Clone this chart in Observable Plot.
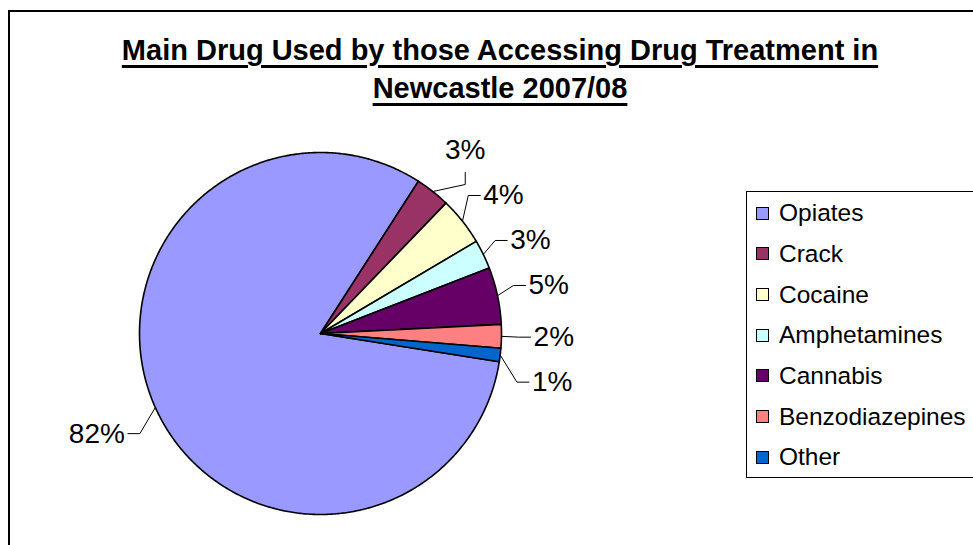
<!DOCTYPE html>
<html>
<head>
<meta charset="utf-8">
<script src="https://cdn.jsdelivr.net/npm/d3@7"></script>
<script src="https://cdn.jsdelivr.net/npm/@observablehq/plot@0.6"></script>
<style>
  html, body { margin: 0; padding: 0; background: #fff; }
  #wrap { position: relative; width: 973px; height: 545px; overflow: hidden; background: #fff;
          font-family: "Liberation Sans", Arial, sans-serif; }
  #frame { position: absolute; left: 8px; top: 10px; width: 1200px; height: 800px;
           border: 2px solid #000; box-sizing: border-box; }
  #title { position: absolute; left: 0; top: 31px; width: 1000px; text-align: center;
           font-weight: bold; font-size: 29px; line-height: 38px; color: #000; }
  #title span { text-decoration: underline; text-decoration-thickness: 3px; text-underline-offset: 5px; }
  #legend { position: absolute; left: 746px; top: 191px; width: 300px; height: 287px;
            border: 1px solid #000; box-sizing: border-box; padding-top: 1px; }
  .row { display: flex; align-items: center; height: 40.67px; font-size: 24.5px; color: #000; }
  .sw { width: 13px; height: 13px; box-sizing: border-box; border: 1px solid #000;
        margin-left: 9px; margin-right: 10px; flex: none; }
  #plot { position: absolute; left: 0; top: 0; }
</style>
</head>
<body>
<div id="wrap">
  <div id="frame"></div>
  <div id="plot"></div>
  <div id="title"></div>
  <div id="legend"></div>
</div>
<script>
// ---- data ----
const titleLines = ["Main Drug Used by those Accessing Drug Treatment in", "Newcastle 2007/08"];
const names = ["Opiates", "Crack", "Cocaine", "Amphetamines", "Cannabis", "Benzodiazepines", "Other"];
const values = [81.6, 3.1, 4.3, 2.6, 5.1, 2.1, 1.2];
const colors = ["#9999FF", "#993366", "#FFFFCC", "#CCFFFF", "#660066", "#FF8080", "#0066CC"];

// ---- layout constants ----
const W = 973, H = 545;
const CX = 320, CY = 333, R = 181;       // pie centre and radius (px)
const START = 99;                        // angle of first slice (deg, clockwise from 12 o'clock)
const LABEL_FONT = 28;
const FONT = '"Liberation Sans", Arial, sans-serif';

// title
const t = document.getElementById("title");
t.innerHTML = titleLines.map(s => `<span>${s}</span>`).join("<br>");

// legend
const lg = document.getElementById("legend");
names.forEach((n, i) => {
  const row = document.createElement("div");
  row.className = "row";
  row.innerHTML = `<div class="sw" style="background:${colors[i]}"></div><div>${n}</div>`;
  lg.appendChild(row);
});

// ---- geometry (data space: unit circle) ----
const total = d3.sum(values);
const rad = a => a * Math.PI / 180;
let acc = START;
const slices = names.map((name, i) => {
  const a0 = acc, a1 = acc + values[i] / total * 360;
  acc = a1;
  return {name, a0, a1, value: values[i]};
});

const piePts = [];
for (const s of slices) {
  piePts.push({name: s.name, x: 0, y: 0});
  const n = Math.max(2, Math.ceil((s.a1 - s.a0) / 0.5));
  for (let k = 0; k <= n; k++) {
    const a = rad(s.a0 + (s.a1 - s.a0) * k / n);
    piePts.push({name: s.name, x: Math.sin(a), y: Math.cos(a)});
  }
  piePts.push({name: s.name, x: 0, y: 0});
}

// labels
const ctx = document.createElement("canvas").getContext("2d");
ctx.font = `${LABEL_FONT}px ${FONT}`;
const u = 1 / R; // one pixel in data units
const labels = slices.map(s => {
  const text = Math.round(s.value / total * 100) + "%";
  const w = ctx.measureText(text).width;
  const mid = rad(((s.a0 + s.a1) / 2) % 360);
  const dist = (R + 22 + 0.75 * w) * u;
  return {name: s.name, text, w, mid, lx: Math.sin(mid) * dist, ly: Math.cos(mid) * dist,
          px: Math.sin(mid), py: Math.cos(mid), right: Math.sin(mid) >= 0};
});
// resolve overlaps on the right side
const rightSide = labels.filter(d => d.right).sort((a, b) => b.ly - a.ly);
for (let i = 1; i < rightSide.length; i++) {
  rightSide[i].ly = Math.min(rightSide[i].ly, rightSide[i - 1].ly - 45 * u);
}
// leaders
const leaderPts = [];
for (const d of labels) {
  let elbow, end;
  if (d.right) {
    end = {x: d.lx - d.w / 2 * u - 3 * u, y: d.ly};
    elbow = {x: end.x - 12 * u, y: d.ly};
    if (elbow.x < d.px) {
      end = {x: d.lx, y: d.ly - 22 * u};
      elbow = {x: d.lx, y: d.ly - 34 * u};
    }
  } else {
    end = {x: d.lx + d.w / 2 * u + 3 * u, y: d.ly};
    elbow = {x: end.x + 12 * u, y: d.ly};
  }
  leaderPts.push({name: d.name, x: d.px, y: d.py}, {name: d.name, ...elbow}, {name: d.name, ...end});
}

const chart = Plot.plot({
  width: W, height: H,
  marginTop: 0, marginRight: 0, marginBottom: 0, marginLeft: 0,
  x: {domain: [-1, 1], range: [CX - R, CX + R], axis: null},
  y: {domain: [-1, 1], range: [CY + R, CY - R], axis: null},
  color: {domain: names, range: colors},
  style: {background: "transparent", overflow: "visible", fontFamily: FONT},
  marks: [
    Plot.line(piePts, {x: "x", y: "y", z: "name", fill: "name", stroke: "#000", strokeWidth: 1.6, strokeLinejoin: "round"}),
    Plot.line(leaderPts, {x: "x", y: "y", z: "name", stroke: "#000", strokeWidth: 1}),
    Plot.text(labels, {x: "lx", y: "ly", text: "text", fontSize: LABEL_FONT, fill: "#000"})
  ]
});
document.getElementById("plot").appendChild(chart);
</script>
</body>
</html>
